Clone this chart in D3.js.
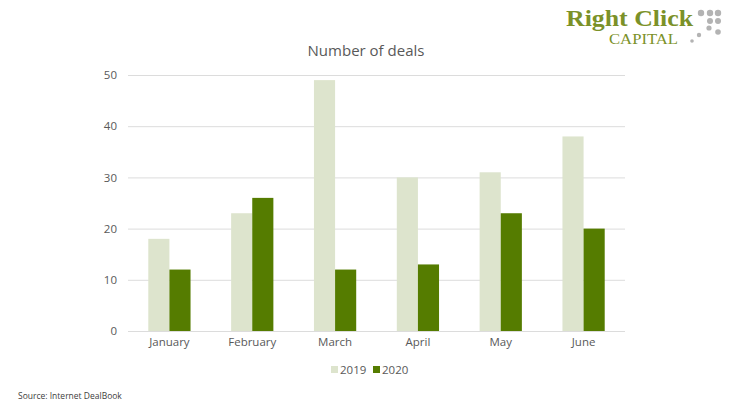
<!DOCTYPE html>
<html><head><meta charset="utf-8">
<script src="https://cdn.jsdelivr.net/npm/d3@7"></script>
<style>body{margin:0;background:#fff}svg{display:block}</style>
</head><body><svg id="c" width="733" height="412"></svg>
<script>
const categories = ["January","February","March","April","May","June"];
const series2019 = [18,23,49,30,31,38];
const series2020 = [12,26,12,13,23,20];
const seriesNames = ["2019","2020"];
const yTicks = [0,10,20,30,40,50];

const svg = d3.select("#c");
const font = "'Open Sans', 'Noto Sans', sans-serif";
const x0 = d3.scaleBand().domain(categories).range([128,625]).paddingInner(0.49).paddingOuter(0.245);
const x1 = d3.scaleBand().domain(seriesNames).range([0,x0.bandwidth()]);
const y = d3.scaleLinear().domain([0,50]).range([331,75]);
const colors = {"2019":"#dde4cd","2020":"#557c00"};

// gridlines
svg.append("g").selectAll("line").data(yTicks).join("line")
  .attr("x1",128).attr("x2",625).attr("y1",d=>y(d)+0.5).attr("y2",d=>y(d)+0.5)
  .attr("stroke","#dcdcdc").attr("stroke-width",1);

// y axis labels
const yAxis = d3.axisLeft(y).tickValues(yTicks).tickSize(0).tickPadding(0);
const ya = svg.append("g").attr("transform","translate(117,0)").call(yAxis);
ya.select(".domain").remove();
ya.selectAll("text").attr("font-family",font).attr("font-size",11.5).attr("fill","#595959");

// x axis labels
const xAxis = d3.axisBottom(x0).tickSize(0).tickPadding(0);
const xa = svg.append("g").attr("transform","translate(0,338)").call(xAxis);
xa.select(".domain").remove();
xa.selectAll("text").attr("font-family",font).attr("font-size",11.5).attr("fill","#595959");

// bars
const data = categories.map((c,i)=>({c, vals:[{k:"2019",v:series2019[i]},{k:"2020",v:series2020[i]}]}));
svg.append("g").selectAll("g").data(data).join("g")
  .attr("transform",d=>`translate(${x0(d.c)},0)`)
  .selectAll("rect").data(d=>d.vals).join("rect")
  .attr("x",d=>x1(d.k)).attr("width",x1.bandwidth())
  .attr("y",d=>y(d.v)).attr("height",d=>y(0)-y(d.v))
  .attr("fill",d=>colors[d.k]);

// title
svg.append("text").attr("x",366).attr("y",56).attr("text-anchor","middle")
  .attr("font-family",font).attr("font-size",15).attr("fill","#595959").text("Number of deals");

// legend
const lg = svg.append("g");
const lx = [331,373];
seriesNames.forEach((s,i)=>{
  lg.append("rect").attr("x",lx[i]).attr("y",366).attr("width",7).attr("height",7).attr("fill",colors[s]);
  lg.append("text").attr("x",lx[i]+9).attr("y",374).attr("font-family",font).attr("font-size",11.5).attr("fill","#595959").text(s);
});

// source
svg.append("text").attr("x",18).attr("y",399).attr("font-family",font).attr("font-size",8.5).attr("fill","#404040").text("Source: Internet DealBook");

// logo
const serif = "'Liberation Serif','DejaVu Serif',serif";
svg.append("text").attr("x",566).attr("y",26).attr("font-family",serif).attr("font-weight","bold").attr("font-size",24)
  .attr("textLength",127).attr("lengthAdjust","spacingAndGlyphs").attr("fill","#7b9128").text("Right Click");
svg.append("text").attr("x",609).attr("y",44).attr("font-family",serif).attr("font-size",14.5)
  .attr("textLength",69).attr("lengthAdjust","spacingAndGlyphs").attr("fill","#7b9128").text("CAPITAL");
const dots = [[701,13,3.2],[710,13,3.2],[718,13,3.2],[710,21,3],[718,21,3],[709,28,2.6],[718,32,2.8],[699,35,2.2],[692,41,1.8]];
svg.append("g").selectAll("circle").data(dots).join("circle")
  .attr("cx",d=>d[0]).attr("cy",d=>d[1]).attr("r",d=>d[2]).attr("fill","#b3b3b3");
</script></body></html>
